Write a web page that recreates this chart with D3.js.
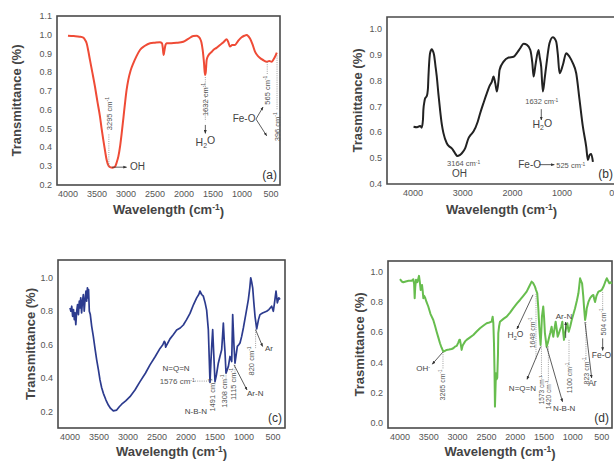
<!DOCTYPE html>
<html><head><meta charset="utf-8">
<script src="https://cdn.jsdelivr.net/npm/d3@7"></script>
<style>body{margin:0;background:#fff}svg{font-family:"Liberation Sans",Arial,sans-serif}</style>
</head><body><svg id="c" width="614" height="461"></svg>
<script>
// ---------- DATA ----------
const aWave = [4000,3900,3800,3736,3700,3678,3650,3621,3580,3534,3490,3448,3420,3391,3360,3333,3300,3276,3230,3190,3160,3132,3100,3074,3045,3017,2990,2960,2920,2874,2820,2759,2680,2586,2500,2414,2380,2365,2352,2340,2320,2300,2220,2126,2012,1920,1839,1782,1750,1724,1700,1678,1655,1638,1625,1609,1580,1552,1520,1494,1440,1379,1320,1264,1235,1207,1170,1121,1060,1006,960,920,890,862,820,776,720,661,620,575,530,489,455,431,400];
const aTrans = [.995,.993,.99,.985,.97,.955,.915,.866,.8,.723,.64,.564,.5,.44,.38,.333,.302,.295,.292,.297,.32,.351,.41,.475,.555,.635,.705,.76,.81,.848,.885,.919,.94,.955,.958,.96,.955,.93,.892,.91,.945,.955,.955,.957,.963,.98,.993,.995,.99,.98,.96,.919,.85,.786,.8,.866,.89,.901,.91,.919,.93,.946,.96,.976,.96,.937,.945,.946,.97,.987,.995,.999,.992,.98,.95,.91,.885,.87,.862,.857,.86,.857,.87,.883,.905];

const bWave = [3990,3920,3859,3825,3800,3792,3770,3758,3724,3700,3690,3657,3623,3600,3577,3550,3522,3490,3456,3420,3388,3321,3270,3220,3153,3106,3060,3018,2952,2885,2840,2784,2700,2649,2580,2514,2460,2413,2380,2345,2312,2280,2259,2178,2077,1977,1900,1843,1775,1707,1640,1600,1573,1536,1475,1450,1421,1388,1350,1321,1254,1187,1119,1085,1052,985,918,851,784,716,649,582,515,481,448,414,380];
const bTrans = [0.622,0.62,0.625,0.618,0.65,0.687,0.72,0.732,0.74,0.77,0.816,0.907,0.922,0.915,0.9,0.86,0.816,0.75,0.687,0.63,0.597,0.558,0.545,0.538,0.519,0.508,0.512,0.519,0.538,0.577,0.59,0.603,0.64,0.674,0.715,0.752,0.78,0.797,0.816,0.79,0.758,0.8,0.842,0.874,0.89,0.893,0.91,0.926,0.943,0.939,0.919,0.87,0.816,0.861,0.919,0.89,0.855,0.758,0.81,0.855,0.945,0.969,0.952,0.9,0.829,0.861,0.907,0.893,0.868,0.829,0.726,0.622,0.545,0.493,0.512,0.516,0.486];

const cWave = [4000,3985,3970,3955,3940,3925,3914,3900,3885,3870,
 3855,3840,3828,3815,3800,3785,3770,3755,3740,3725,
 3713,3700,3690,3680,3667,3650,3626,3598,3570,3540,
 3510,3483,3455,3425,3380,3339,3300,3253,3195,3150,
 3109,3040,2966,2880,2793,2700,2621,2530,2448,2400,
 2375,2362,2350,2330,2276,2220,2161,2100,2046,1990,
 1931,1870,1816,1780,1759,1730,1701,1670,1644,1615,
 1586,1570,1557,1540,1517,1500,1475,1443,1415,1385,
 1370,1356,1340,1328,1310,1290,1270,1241,1212,1195,
 1172,1155,1135,1115,1090,1069,1040,1011,970,925,
 900,884,865,850,830,810,781,750,724,680,
 609,570,523,494,470,448,425,400,379];
const cTrans = [.82,.80,.83,.77,.81,.75,.79,.72,.80,.84,
 .78,.86,.82,.88,.79,.86,.90,.80,.87,.92,
 .86,.94,.88,.93,.80,.78,.71,.65,.58,.51,
 .45,.39,.345,.31,.27,.24,.22,.205,.21,.23,
 .245,.265,.29,.33,.38,.43,.48,.53,.578,.60,
 .62,.615,.585,.60,.635,.66,.688,.70,.718,.75,
 .787,.84,.88,.90,.92,.90,.89,.85,.807,.69,
 .375,.50,.59,.69,.51,.38,.42,.49,.53,.57,
 .65,.73,.62,.56,.43,.45,.47,.53,.50,.78,
 .59,.49,.54,.59,.60,.61,.65,.70,.78,.87,
 .94,1.0,.97,.94,.85,.77,.695,.75,.78,.79,
 .80,.81,.83,.80,.86,.92,.85,.88,.87];

const dWave = [4000,3970,3942,3900,3850,3797,3769,3755,3745,3735,
 3722,3699,3685,3670,3655,3641,3630,3618,3605,3595,
 3580,3566,3540,3509,3470,3422,3390,3364,3330,3306,
 3280,3248,3220,3190,3150,3104,3075,3046,3015,2989,
 2970,2959,2945,2930,2915,2902,2870,2844,2790,2728,
 2670,2612,2550,2496,2450,2410,2392,2380,2369,2360,
 2352,2345,2335,2325,2312,2300,2294,2280,2265,2200,
 2149,2090,2034,1970,1918,1860,1802,1760,1716,1690,
 1658,1640,1618,1600,1583,1560,1548,1537,1514,1500,
 1485,1456,1435,1410,1390,1369,1355,1340,1320,1299,
 1280,1264,1245,1224,1200,1183,1168,1154,1140,1125,
 1110,1096,1084,1072,1045,1020,990,962,930,904,
 888,875,860,840,820,805,788,770,759,730,
 701,670,644,630,615,590,557,530,499,470,
 440,412,390,367,345,326];
const dTrans = [.95,.935,.93,.935,.94,.94,.95,.92,.825,.9,
 .947,.93,.95,.972,.93,.879,.9,.912,.87,.825,
 .84,.83,.8,.77,.72,.681,.64,.604,.56,.528,
 .5,.472,.478,.484,.486,.49,.495,.505,.51,.532,
 .55,.55,.52,.484,.51,.52,.54,.55,.565,.582,
 .605,.627,.645,.66,.665,.67,.703,.66,.528,.35,
 .11,.2,.33,.29,.3,.45,.594,.64,.67,.69,
 .703,.73,.759,.79,.813,.84,.868,.9,.934,.925,
 .901,.88,.857,.76,.637,.516,.6,.703,.77,.7,
 .594,.505,.53,.571,.6,.637,.6,.57,.62,.67,
 .62,.571,.59,.615,.64,.67,.6,.55,.59,.615,
 .64,.66,.63,.604,.64,.681,.72,.759,.81,.857,
 .91,.956,.94,.923,.84,.759,.681,.72,.759,.8,
 .825,.84,.846,.82,.8,.84,.868,.872,.879,.9,
 .93,.956,.94,.923,.93,.92];

const xTicks500 = [4000,3500,3000,2500,2000,1500,1000,500];
const xTicks1000 = [4000,3000,2000,1000,0];
const aYTicks = [0.2,0.3,0.4,0.5,0.6,0.7,0.8,0.9,1.0,1.1];
const bYTicks = [0.4,0.5,0.6,0.7,0.8,0.9,1.0];
const cYTicks = [0.2,0.4,0.6,0.8,1.0];
const dYTicks = [0.0,0.2,0.4,0.6,0.8,1.0];

// ---------- DRAW ----------
const svg = d3.select('#c');
const defs = svg.append('defs');
defs.append('marker').attr('id','arr').attr('viewBox','0 0 10 10').attr('refX',9).attr('refY',5)
  .attr('markerWidth',4.5).attr('markerHeight',4.5).attr('orient','auto-start-reverse')
  .append('path').attr('d','M0,1 L10,5 L0,9 Z').attr('fill','#333');

const panels = [
 {key:'a', wave:aWave, trans:aTrans, color:'#ef4b36', lw:2, curve:d3.curveMonotoneX,
  L:57,T:16,R:280,B:185, xDom:[4189,345], yDom:[0.2,1.1], xTicks:xTicks500, yTicks:aYTicks,
  yTitle:'Transmittance (%)', yTitleX:16, xTitleY:214, label:'(a)'},
 {key:'b', wave:bWave, trans:bTrans, color:'#222', lw:2, curve:d3.curveMonotoneX,
  L:387,T:17,R:619,B:184, xDom:[4524,-145], yDom:[0.4,1.047], xTicks:xTicks1000, yTicks:bYTicks,
  yTitle:'Trasmittance (%)', yTitleX:357, xTitleY:214, label:'(b)', labelR:613, noRight:true},
 {key:'c', wave:cWave, trans:cTrans, color:'#2c3b8e', lw:1.7, curve:d3.curveLinear,
  L:58,T:260,R:285,B:428, xDom:[4207,293], yDom:[0.103,1.106], xTicks:xTicks500, yTicks:cYTicks,
  yTitle:'Transmittance (%)', yTitleX:30, xTitleY:456, label:'(c)'},
 {key:'d', wave:dWave, trans:dTrans, color:'#67bd4e', lw:2, curve:d3.curveLinear,
  L:388,T:261,R:612,B:428, xDom:[4208,321], yDom:[-0.031,1.07], xTicks:xTicks500, yTicks:dYTicks,
  yTitle:'Trasmittance (%)', yTitleX:359, xTitleY:456, label:'(d)'}
];

function supText(sel, base, sup, after) {
  sel.append('tspan').text(base);
  sel.append('tspan').attr('dy','-0.45em').attr('font-size','0.65em').text(sup);
  if (after) sel.append('tspan').attr('dy','0.45em').text(after);
  return sel;
}

panels.forEach(p => {
  const g = svg.append('g');
  p.x = d3.scaleLinear().domain(p.xDom).range([p.L, p.R]);
  p.y = d3.scaleLinear().domain(p.yDom).range([p.B, p.T]);
  if (p.noRight) {
    g.append('path').attr('d',`M${p.R+5},${p.T}H${p.L}V${p.B}H${p.R+5}`).attr('fill','none').attr('stroke','#4a4a4a').attr('stroke-width',1.6);
  } else {
    g.append('rect').attr('x',p.L).attr('y',p.T).attr('width',p.R-p.L).attr('height',p.B-p.T)
      .attr('fill','none').attr('stroke','#4a4a4a').attr('stroke-width',1.6);
  }
  g.selectAll('.yt').data(p.yTicks).join('text').attr('x',p.L-5).attr('y',d=>p.y(d))
    .attr('text-anchor','end').attr('dominant-baseline','central').attr('font-size',9).attr('fill','#555')
    .text(d=>d3.format('.1f')(d));
  g.selectAll('.xt').data(p.xTicks).join('text').attr('x',d=>p.x(d)).attr('y',p.B+11.5)
    .attr('text-anchor','middle').attr('font-size',9).attr('fill','#555').text(d=>d);
  g.append('text').attr('transform',`translate(${p.yTitleX},${(p.T+p.B)/2}) rotate(-90)`)
    .attr('text-anchor','middle').attr('dominant-baseline','central').attr('font-size',13).attr('font-weight','bold')
    .attr('fill','#444').text(p.yTitle);
  const xt = g.append('text').attr('x',(p.L+Math.min(p.R,612))/2 + (p.noRight?2:0)).attr('y',p.xTitleY)
    .attr('text-anchor','middle').attr('font-size',13).attr('font-weight','bold').attr('fill','#444');
  supText(xt,'Wavelength (cm','-1',')');
  const pts = d3.zip(p.wave, p.trans);
  g.append('path').datum(pts).attr('fill','none').attr('stroke',p.color).attr('stroke-width',p.lw)
    .attr('stroke-linejoin','round')
    .attr('d', d3.line().x(d=>p.x(d[0])).y(d=>p.y(d[1])).curve(p.curve));
  g.append('text').attr('x',p.labelR || p.R-3).attr('y',p.B-6).attr('text-anchor','end')
    .attr('font-size',12).attr('fill','#333').text(p.label);
  p.g = g;
});

function dotted(p, w1, v1, w2, v2) {
  p.g.append('line').attr('x1',p.x(w1)).attr('y1',p.y(v1)).attr('x2',p.x(w2)).attr('y2',p.y(v2))
    .attr('stroke','#888').attr('stroke-width',0.8).attr('stroke-dasharray','1,1.2');
}
function arrow(p, w1, v1, w2, v2) {
  p.g.append('line').attr('x1',p.x(w1)).attr('y1',p.y(v1)).attr('x2',p.x(w2)).attr('y2',p.y(v2))
    .attr('stroke','#333').attr('stroke-width',0.8).attr('marker-end','url(#arr)');
}
function cm(p, w, v, num, opt={}) {
  const t = p.g.append('text').attr('font-size',opt.size||7).attr('fill','#555')
    .attr('text-anchor',opt.anchor||'middle').attr('dominant-baseline', opt.rot ? 'central' : 'auto');
  if (opt.rot) t.attr('transform',`translate(${p.x(w)},${p.y(v)}) rotate(-90)`);
  else t.attr('x',p.x(w)).attr('y',p.y(v));
  supText(t, num+' cm','-1');
}
function label(p, w, v, txt, opt={}) {
  const t = p.g.append('text').attr('x',p.x(w)).attr('y',p.y(v)).attr('font-size',opt.size||8)
    .attr('fill','#444').attr('text-anchor',opt.anchor||'middle');
  if (opt.sub) { t.append('tspan').text(opt.sub[0]); t.append('tspan').attr('dy','0.35em').attr('font-size','0.65em').text(opt.sub[1]); t.append('tspan').attr('dy','-0.35em').text(opt.sub[2]); }
  else if (opt.sup) { t.append('tspan').text(opt.sup[0]); t.append('tspan').attr('dy','-0.45em').attr('font-size','0.65em').text(opt.sup[1]); }
  else t.text(txt);
}

const [pa,pb,pc,pd] = panels;
// (a)
dotted(pa, 3295, 0.30, 3295, 0.47);
cm(pa, 3295, 0.58, '3295', {rot:true, size:7.5});
arrow(pa, 3240, 0.295, 2990, 0.295);
label(pa, 2930, 0.28, 'OH', {anchor:'start', size:10});
dotted(pa, 1632, 0.775, 1632, 0.54);
cm(pa, 1632, 0.655, '1632', {rot:true, size:7.5});
arrow(pa, 1632, 0.52, 1632, 0.475);
label(pa, 1632, 0.41, '', {size:10.5, sub:['H','2','O']});
label(pa, 965, 0.535, 'Fe-O', {size:10});
arrow(pa, 759, 0.551, 638, 0.615);
arrow(pa, 759, 0.551, 575, 0.462);
dotted(pa, 565, 0.855, 565, 0.79);
cm(pa, 565, 0.705, '565', {rot:true, size:7.5});
dotted(pa, 396, 0.89, 396, 0.6);
cm(pa, 396, 0.51, '396', {rot:true, size:7.5});
// (b)
cm(pb, 2982, 0.47, '3164', {size:7.5});
label(pb, 3214, 0.427, 'OH', {anchor:'start', size:10});
cm(pb, 1409, 0.71, '1632', {size:7.5});
arrow(pb, 1419, 0.69, 1419, 0.648);
label(pb, 1399, 0.617, '', {size:10.5, sub:['H','2','O']});
label(pb, 1883, 0.462, 'Fe-O', {anchor:'start', size:10});
arrow(pb, 1460, 0.475, 1157, 0.475);
cm(pb, 1117, 0.462, '525', {anchor:'start', size:7.5});
// (c)
label(pc, 2172, 0.443, 'N=Q=N', {size:8});
cm(pc, 1845, 0.365, '1576', {anchor:'end', size:8});
dotted(pc, 1845, 0.383, 1590, 0.383);
label(pc, 1638, 0.186, 'N-B-N', {anchor:'end', size:8});
cm(pc, 1552, 0.30, '1491', {rot:true, size:7.5});
dotted(pc, 1500, 0.375, 1500, 0.36);
cm(pc, 1345, 0.323, '1308', {rot:true, size:7.5});
dotted(pc, 1310, 0.43, 1310, 0.39);
cm(pc, 1190, 0.365, '1115', {rot:true, size:7.5});
dotted(pc, 1155, 0.48, 1155, 0.43);
cm(pc, 871, 0.503, '820', {rot:true, size:7.5});
dotted(pc, 800, 0.69, 800, 0.58);
arrow(pc, 1172, 0.48, 948, 0.33);
label(pc, 948, 0.294, 'Ar-N', {anchor:'start', size:8});
arrow(pc, 800, 0.69, 680, 0.59);
label(pc, 638, 0.562, 'Ar', {anchor:'start', size:8});
// (d)
label(pd, 3479, 0.345, '', {anchor:'end', size:8, sup:['OH','-']});
arrow(pd, 3254, 0.47, 3440, 0.39);
dotted(pd, 3254, 0.47, 3254, 0.36);
cm(pd, 3271, 0.253, '3265', {rot:true, size:7});
arrow(pd, 1692, 0.847, 1970, 0.622);
label(pd, 1996, 0.563, '', {size:8.5, sub:['H','2','O']});
dotted(pd, 1640, 0.853, 1640, 0.418);
cm(pd, 1714, 0.596, '1648', {rot:true, size:7});
arrow(pd, 1559, 0.505, 1796, 0.29);
label(pd, 1640, 0.213, 'N=Q=N', {anchor:'end', size:8});
dotted(pd, 1545, 0.507, 1545, 0.305);
cm(pd, 1545, 0.22, '1573', {rot:true, size:6.5});
dotted(pd, 1425, 0.507, 1425, 0.273);
cm(pd, 1425, 0.187, '1420', {rot:true, size:6.5});
arrow(pd, 1455, 0.505, 1180, 0.142);
label(pd, 1150, 0.082, 'N-B-N', {size:8});
arrow(pd, 1125, 0.563, 1125, 0.668);
label(pd, 1154, 0.689, 'Ar-N', {size:8});
dotted(pd, 1067, 0.55, 1067, 0.372);
cm(pd, 1067, 0.299, '1100', {rot:true, size:7});
dotted(pd, 773, 0.668, 773, 0.418);
cm(pd, 773, 0.345, '823', {rot:true, size:7});
arrow(pd, 790, 0.668, 674, 0.299);
label(pd, 660, 0.246, 'Ar', {size:8.5});
dotted(pd, 483, 0.866, 483, 0.748);
cm(pd, 483, 0.668, '504', {rot:true, size:7});
arrow(pd, 483, 0.56, 483, 0.48);
label(pd, 503, 0.431, 'Fe-O', {size:8.5});
</script>
</body></html>
